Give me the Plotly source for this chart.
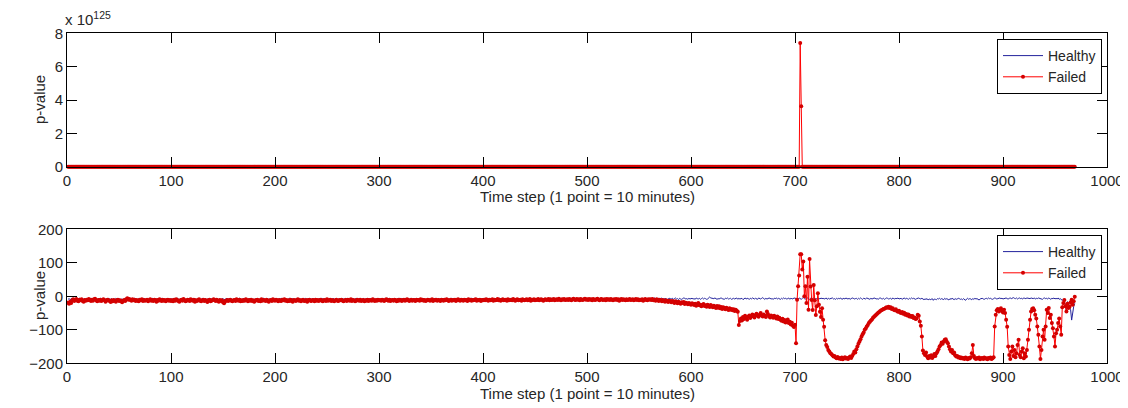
import plotly.graph_objects as go

# ---------------- data: log10 p-value per time step (bottom panel) ----------------
healthy_log = [
    -9,-7,-10,-8,-6,-9,-11,-8,-7,-10,-9,-6,-8,-10,-7,-9,-8,-11,-7,-8,
    -10,-8,-6,-9,-7,-10,-8,-9,-11,-7,-8,-6,-9,-10,-8,-7,-9,-8,-10,-6,
    -8,-9,-7,-11,-8,-10,-6,-9,-8,-7,-10,-9,-8,-11,-7,-9,-6,-8,-10,-9,
    -7,-10,-8,-9,-6,-8,-11,-9,-7,-10,-8,-9,-7,-6,-9,-10,-8,-7,-11,-9,
    -8,-6,-10,-9,-7,-8,-10,-7,-9,-8,-6,-10,-9,-11,-8,-7,-9,-8,-10,-7,
    -9,-8,-11,-7,-9,-6,-8,-10,-8,-9,-7,-11,-8,-9,-10,-7,-8,-6,-9,-8,
    -10,-7,-9,-8,-11,-8,-7,-9,-10,-6,-8,-9,-7,-10,-8,-11,-9,-7,-8,-10,
    -7,-9,-8,-6,-10,-9,-8,-11,-7,-8,-9,-10,-6,-8,-9,-7,-10,-8,-9,-11,
    -8,-10,-7,-9,-8,-6,-9,-10,-8,-7,-11,-9,-8,-10,-7,-9,-6,-8,-10,-9,
    -9,-7,-8,-10,-9,-11,-7,-8,-6,-9,-10,-8,-7,-9,-11,-8,-10,-7,-9,-8,
    -8,-10,-9,-7,-8,-6,-9,-11,-8,-7,-9,-10,-8,-6,-9,-8,-7,-10,-9,-8,
    -7,-9,-10,-8,-11,-7,-8,-9,-6,-10,-8,-9,-7,-8,-10,-9,-7,-11,-8,-9,
    -10,-8,-7,-9,-6,-8,-10,-7,-9,-8,-11,-9,-7,-8,-10,-6,-9,-8,-7,-10,
    -8,-9,-11,-7,-8,-10,-9,-6,-8,-7,-9,-10,-8,-9,-7,-11,-8,-6,-9,-10,
    -7,-8,-9,-10,-6,-9,-8,-7,-11,-8,-9,-7,-10,-8,-6,-9,-10,-7,-8,-9,
    -9,-11,-8,-7,-10,-8,-9,-6,-8,-10,-7,-9,-8,-11,-9,-7,-10,-8,-6,-9,
    -8,-7,-10,-9,-8,-6,-9,-8,-10,-7,-9,-11,-8,-7,-9,-10,-8,-9,-7,-8,
    -10,-9,-7,-8,-11,-9,-6,-8,-9,-7,-10,-8,-9,-6,-8,-10,-7,-9,-8,-10,
    -7,-8,-9,-10,-7,-9,-8,-11,-8,-6,-9,-7,-10,-8,-9,-7,-8,-10,-6,-9,
    -8,-10,-7,-9,-8,-7,-10,-9,-6,-8,-9,-11,-7,-8,-10,-9,-7,-8,-9,-6,
    -9,-7,-8,-6,-10,-8,-9,-7,-11,-9,-8,-7,-9,-10,-8,-6,-9,-8,-7,-10,
    -8,-9,-10,-7,-8,-9,-6,-10,-8,-7,-9,-8,-11,-7,-9,-8,-10,-9,-7,-8,
    -9,-8,-7,-10,-9,-6,-8,-9,-7,-8,-10,-7,-9,-8,-6,-9,-10,-8,-7,-9,
    -7,-10,-8,-9,-7,-8,-6,-9,-10,-8,-7,-9,-8,-10,-7,-6,-9,-8,-10,-7,
    -8,-9,-7,-6,-9,-8,-10,-7,-8,-9,-7,-10,-8,-6,-9,-7,-8,-10,-9,-8,
    -9,-7,-10,-8,-6,-9,-8,-7,-10,-9,-8,-7,-9,-6,-8,-10,-7,-9,-8,-7,
    -8,-10,-6,-9,-8,-7,-9,-10,-8,-7,-6,-9,-8,-10,-7,-8,-9,-7,-10,-8,
    -7,-8,-9,-6,-10,-8,-7,-9,-8,-6,-9,-7,-10,-8,-7,-9,-8,-6,-9,-8,
    -7,-9,-6,-8,-5,-7,-10,-8,-6,-9,-7,-5,-8,-9,-6,-7,-10,-8,-6,-7,
    -8,-6,-9,-7,-5,-8,-7,-10,-6,-8,-9,-7,-5,-6,-8,-7,-9,-6,-8,-7,
    -6,-8,-7,-9,-5,-7,-8,-6,-9,-7,-5,-8,-6,-7,-9,-8,-4,-2,-5,-6,
    -8,-7,-5,-6,-9,-7,-8,-6,-5,-7,-8,-9,-6,-7,-5,-8,-7,-6,-9,-7,
    -6,-8,-7,-5,-9,-6,-8,-7,-6,-10,-7,-5,-8,-6,-7,-9,-6,-8,-5,-7,
    -8,-6,-7,-9,-5,-7,-8,-6,-4,-7,-9,-6,-8,-7,-5,-6,-8,-7,-9,-6,
    -7,-5,-8,-6,-7,-9,-6,-8,-5,-7,-6,-8,-7,-5,-9,-6,-7,-8,-5,-6,
    -7,-6,-8,-5,-7,-9,-6,-4,-7,-8,-6,-5,-7,-9,-6,-8,-7,-5,-6,-8,
    -7,-9,-6,-8,-5,-7,-6,-8,-7,-5,-9,-6,-8,-7,-6,-5,-8,-7,-9,-6,
    -8,-6,-7,-5,-9,-7,-6,-8,-5,-7,-8,-6,-9,-7,-5,-6,-8,-7,-6,-9,
    -6,-8,-5,-7,-9,-6,-7,-8,-5,-6,-7,-9,-6,-8,-7,-5,-6,-8,-7,-9,
    -6,-5,-7,-8,-6,-9,-7,-5,-6,-8,-7,-6,-9,-5,-7,-8,-6,-7,-5,-8,
    -7,-6,-9,-7,-5,-8,-6,-7,-9,-6,-8,-5,-7,-6,-8,-9,-7,-6,-5,-7,
    -8,-6,-7,-10,-8,-9,-7,-11,-8,-10,-9,-7,-12,-8,-9,-10,-7,-8,-6,-9,
    -7,-8,-10,-6,-9,-7,-8,-11,-7,-9,-6,-8,-10,-7,-9,-8,-6,-7,-9,-8,
    -10,-7,-9,-12,-8,-6,-9,-7,-8,-10,-7,-9,-6,-8,-7,-9,-11,-8,-7,-6,
    -8,-9,-7,-6,-8,-5,-7,-6,-8,-9,-7,-5,-6,-8,-7,-6,-5,-7,-6,-8,
    -7,-6,-5,-7,-8,-6,-5,-7,-6,-4,-6,-7,-5,-8,-6,-5,-7,-6,-8,-5,
    -6,-7,-5,-6,-8,-7,-5,-6,-7,-5,-8,-6,-7,-5,-6,-8,-7,-9,-6,-5,
    -7,-6,-8,-5,-7,-9,-6,-7,-5,-8,
    -6,-8,-5,-9,-7,-10,-12,-9,-16,-25,-46,-16,-22,-31,-40,-71,-46,-30,-21,
]

failed_log = [
    -19,-22,-16,-20,-12,-9,-14,-11,-8,-13,-15,-10,-12,-9,-14,-16,-11,-13,-10,-12,
    -8,-11,-14,-10,-13,-9,-7,-12,-15,-11,-13,-10,-14,-12,-9,-11,-16,-13,-10,-12,
    -14,-17,-12,-15,-11,-13,-16,-12,-10,-14,-12,-15,-18,-13,-11,-14,-9,-6,-10,-8,
    -11,-13,-9,-12,-10,-14,-11,-13,-15,-10,-12,-9,-14,-11,-13,-12,-10,-15,-12,-9,
    -13,-11,-14,-10,-12,-16,-11,-13,-9,-12,-14,-10,-13,-11,-15,-12,-10,-13,-11,-14,
    -12,-15,-10,-13,-9,-11,-14,-16,-12,-10,-13,-8,-11,-15,-13,-10,-12,-14,-9,-11,
    -13,-10,-16,-12,-14,-11,-9,-13,-15,-12,-10,-14,-11,-13,-17,-12,-10,-15,-13,-11,
    -9,-12,-14,-10,-13,-16,-11,-14,-12,-18,-21,-15,-13,-11,-14,-12,-10,-13,-15,-12,
    -11,-14,-9,-12,-13,-10,-15,-12,-14,-11,-13,-9,-12,-15,-11,-13,-10,-14,-12,-16,
    -13,-11,-10,-14,-12,-15,-9,-13,-11,-12,-14,-10,-13,-16,-12,-11,-14,-9,-12,-13,
    -10,-12,-15,-11,-13,-14,-10,-12,-9,-13,-11,-15,-12,-14,-10,-13,-16,-11,-12,-14,
    -12,-9,-13,-11,-15,-12,-10,-14,-13,-11,-16,-12,-10,-13,-14,-11,-12,-15,-10,-13,
    -11,-14,-12,-10,-13,-15,-11,-12,-14,-9,-13,-12,-10,-14,-11,-13,-15,-12,-10,-13,
    -14,-11,-12,-10,-13,-15,-12,-11,-14,-10,-12,-13,-9,-14,-11,-12,-15,-13,-10,-12,
    -13,-10,-14,-12,-11,-15,-12,-13,-10,-14,-11,-12,-13,-9,-12,-14,-11,-13,-10,-12,
    -11,-13,-10,-12,-14,-11,-9,-12,-13,-10,-14,-12,-11,-13,-10,-12,-15,-11,-13,-10,
    -12,-14,-11,-10,-13,-12,-9,-11,-14,-12,-10,-13,-11,-12,-14,-10,-12,-11,-13,-9,
    -12,-10,-13,-11,-14,-12,-10,-11,-13,-12,-9,-14,-11,-12,-10,-13,-11,-12,-14,-10,
    -11,-13,-10,-12,-9,-11,-14,-12,-10,-13,-11,-12,-10,-14,-11,-9,-12,-13,-10,-11,
    -13,-10,-12,-11,-14,-9,-12,-10,-13,-11,-12,-10,-9,-13,-11,-12,-10,-14,-11,-12,
    -10,-12,-9,-11,-13,-10,-12,-11,-9,-13,-10,-12,-11,-8,-12,-10,-13,-11,-9,-12,
    -11,-10,-13,-9,-12,-11,-10,-12,-8,-11,-13,-10,-9,-12,-11,-10,-13,-9,-11,-12,
    -10,-9,-12,-11,-8,-13,-10,-11,-9,-12,-10,-11,-8,-12,-10,-9,-11,-13,-10,-9,
    -11,-10,-8,-12,-9,-11,-10,-8,-12,-10,-9,-11,-7,-10,-12,-9,-10,-8,-11,-10,
    -9,-11,-8,-10,-12,-9,-7,-10,-11,-8,-10,-9,-12,-8,-10,-11,-9,-7,-10,-9,
    -11,-8,-10,-9,-12,-8,-10,-11,-9,-7,-10,-12,-9,-8,-11,-10,-9,-12,-8,-10,
    -9,-11,-8,-10,-12,-9,-10,-8,-11,-9,-13,-10,-8,-11,-9,-10,-12,-9,-11,-10,
    -8,-11,-10,-9,-12,-10,-8,-11,-9,-12,-10,-11,-9,-13,-10,-8,-11,-12,-9,-10,
    -9,-11,-8,-12,-10,-13,-9,-11,-14,-10,-12,-15,-11,-13,-16,-12,-14,-17,-13,-15,
    -18,-14,-16,-20,-15,-17,-21,-16,-19,-22,-18,-20,-17,-23,-19,-21,-24,-20,-22,-25,
    -21,-23,-26,-22,-28,-24,-20,-27,-25,-30,-26,-23,-29,-27,-31,-25,-28,-32,-26,-30,
    -33,-28,-31,-35,-29,-34,-30,-36,-32,-38,-33,-35,-39,-34,-37,-41,-36,-40,-38,-42,
    -39,-44,-40,-43,-46,-86,-74,-66,-72,-62,-68,-58,-64,-70,-61,-57,-65,-60,-54,-59,
    -63,-56,-52,-58,-61,-55,-50,-57,-60,-54,-58,-62,-45,-53,-59,-63,-57,-60,-64,-58,
    -62,-66,-60,-68,-64,-70,-73,-67,-75,-71,-78,-74,-69,-80,-76,-84,-79,-88,-92,-85,
    -140,-10,30,62,125.87,125.56,80,104,0,30,-20,58,-40,111,29,-11,-41,34,-12,-56,
    -30,9,-25,-46,-62,-36,-70,-91,-131,-145,-151,-160,-165,-170,-172,
    -176,-180,-178,-183,-185,-181,-186,-184,-187,-183,-188,-185,-182,-186,-184,-187,-183,-180,-184,-178,
    -172,-165,-168,-158,-150,-142,-135,-128,-120,-113,-108,-100,-96,-90,-86,-80,-76,-72,-69,-64,
    -61,-58,-55,-52,-49,-47,-44,-42,-40,-38,-37,-35,-33,-34,-31,
    -35,-33,-38,-36,-40,-42,-39,-44,-46,-43,-48,-50,-47,-52,-49,-55,-53,-57,-54,-60,
    -58,-62,-59,-65,-63,-68,-66,-55,-58,-75,
    -88,-120,-162,-170,-175,-168,-180,-185,-178,-183,-176,-184,-180,-172,-178,-170,
    -165,-158,-150,-145,-138,-142,-135,-130,-128,-136,-140,-150,-158,-165,
    -160,-170,-168,-176,-180,-178,-183,-181,-185,-183,
    -186,-184,-187,-183,-185,-188,-184,-186,-182,-170,-145,-178,-185,-187,-184,-186,
    -183,-188,-185,-184,-187,-183,-186,-185,-188,-184,-186,-183,-187,-185,-182,
    -90,-55,-42,-38,-45,-40,-36,-44,-48,-40,-50,
    -70,-91,-150,-175,-187,-165,-150,-178,-160,-182,-170,-145,-130,-175,-182,-165,-155,-185,-170,-180,
    -160,-130,-100,-70,-45,-38,-36,-42,-55,-66,-90,-115,-150,-187,-160,-120,-100,-130,-90,-40,
    -50,-35,-65,-55,-80,-95,-120,-150,-110,-100,-80,-66,-90,-115,-33,-20,-11,-30,-45,-22,
    -35,-31,-18,-10,-25,-15,-1,
]

steps_h = list(range(1, len(healthy_log) + 1))
steps_f = list(range(1, len(failed_log) + 1))

# top panel shows the raw p-value (10 ** log value)
healthy_p = [10.0 ** v for v in healthy_log]
failed_p = [10.0 ** v for v in failed_log]

x_ticks = [0, 100, 200, 300, 400, 500, 600, 700, 800, 900, 1000]
top_tick_vals = [0, 2e125, 4e125, 6e125, 8e125]
top_tick_text = ["0", "2", "4", "6", "8"]
bottom_tick_vals = [-200, -100, 0, 100, 200]

BLUE = "#23239c"
RED = "#ff0000"
MRED = "#d40000"
FONT = "Liberation Sans, Arial, sans-serif"
TXT = "#262626"
FS = 15

# the page body adds an 8 px margin; the figure is sized so its edges meet the window
W, H = 1120, 400
OFF = 8
L_M, R_M = 59, 21
PW = W - L_M - R_M  # plot width in px


def px_x(px):
    return (px - OFF - L_M) / PW


def px_y(py):
    return 1 - (py - OFF) / H


fig = go.Figure()
fig.add_trace(go.Scatter(x=steps_h, y=healthy_p, mode="lines", name="Healthy",
                         line=dict(color=BLUE, width=1), xaxis="x", yaxis="y", legend="legend"))
fig.add_trace(go.Scatter(x=steps_f, y=failed_p, mode="lines+markers", name="Failed",
                         line=dict(color=RED, width=1), marker=dict(color=MRED, size=4),
                         cliponaxis=False, xaxis="x", yaxis="y", legend="legend"))
fig.add_trace(go.Scatter(x=steps_h, y=healthy_log, mode="lines", name="Healthy",
                         line=dict(color=BLUE, width=1), xaxis="x2", yaxis="y2", legend="legend2"))
fig.add_trace(go.Scatter(x=steps_f, y=failed_log, mode="lines+markers", name="Failed",
                         line=dict(color=RED, width=1), marker=dict(color=MRED, size=4),
                         xaxis="x2", yaxis="y2", legend="legend2"))

axis_common = dict(showline=True, linecolor="black", linewidth=1, mirror="allticks",
                   ticks="inside", ticklen=10, tickcolor="black", showgrid=False,
                   zeroline=False, automargin=False,
                   tickfont=dict(size=FS, color=TXT, family=FONT))

legend_common = dict(xanchor="right", yanchor="top", bgcolor="white",
                     bordercolor="black", borderwidth=1,
                     font=dict(size=14, color=TXT, family=FONT),
                     tracegroupgap=0, itemwidth=40)

fig.update_layout(
    width=W, height=H,
    margin=dict(l=L_M, r=R_M, t=0, b=0, autoexpand=False),
    paper_bgcolor="white", plot_bgcolor="white",
    font=dict(family=FONT, size=FS, color=TXT),
    xaxis=dict(domain=[0, 1], anchor="y", range=[0, 1000], tickvals=x_ticks, **axis_common),
    yaxis=dict(domain=[px_y(166.7), px_y(33.3)], anchor="x", range=[0, 8e125],
               tickvals=top_tick_vals, ticktext=top_tick_text, **axis_common),
    xaxis2=dict(domain=[0, 1], anchor="y2", range=[0, 1000], tickvals=x_ticks, **axis_common),
    yaxis2=dict(domain=[px_y(363.3), px_y(229.3)], anchor="x2", range=[-200, 200],
                tickvals=bottom_tick_vals, **axis_common),
    legend=dict(x=px_x(1102), y=px_y(39), **legend_common),
    legend2=dict(x=px_x(1102), y=px_y(235), **legend_common),
    showlegend=True,
    annotations=[
        dict(text="Time step (1 point = 10 minutes)", x=px_x(587), y=px_y(197), xref="paper", yref="paper",
             showarrow=False, xanchor="center", yanchor="middle", font=dict(size=FS, color=TXT)),
        dict(text="Time step (1 point = 10 minutes)", x=px_x(587), y=px_y(393), xref="paper", yref="paper",
             showarrow=False, xanchor="center", yanchor="middle", font=dict(size=FS, color=TXT)),
        dict(text="p-value", x=px_x(39), y=px_y(100), xref="paper", yref="paper",
             showarrow=False, textangle=-90, xanchor="center", yanchor="middle", font=dict(size=FS, color=TXT)),
        dict(text="p-value", x=px_x(39), y=px_y(296), xref="paper", yref="paper",
             showarrow=False, textangle=-90, xanchor="center", yanchor="middle", font=dict(size=FS, color=TXT)),
        dict(text="x 10<sup>125</sup>", x=px_x(63), y=px_y(18), xref="paper", yref="paper",
             showarrow=False, xanchor="left", yanchor="middle", font=dict(size=FS, color=TXT)),
    ],
)

fig.write_html("out.html")
